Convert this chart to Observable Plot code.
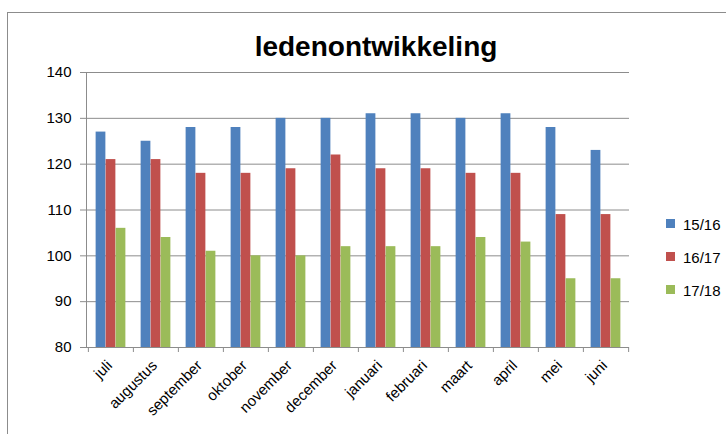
<!DOCTYPE html>
<html>
<head>
<meta charset="utf-8">
<script src="https://cdn.jsdelivr.net/npm/d3@7"></script>
<script src="https://cdn.jsdelivr.net/npm/@observablehq/plot@0.6"></script>
<style>
  html, body { margin: 0; padding: 0; background: #fff; }
  #wrap { position: relative; width: 726px; height: 434px; overflow: hidden; font-family: "Liberation Sans", Arial, sans-serif; }
  #border { position: absolute; left: 7px; top: 12px; width: 740px; height: 440px; border-top: 1px solid #8c8c8c; border-left: 1px solid #8c8c8c; }
  #title { position: absolute; left: 176px; width: 400px; top: 33px; text-align: center; font-size: 28px; line-height: 28px; font-weight: bold; color: #000; }
  #chart { position: absolute; left: 0; top: 0; }
  .leg { position: absolute; left: 666px; font-size: 15px; line-height: 15px; color: #000; }
  .leg span.sw { position: absolute; left: 0; top: 2px; width: 9px; height: 9px; }
  .leg span.lb { position: absolute; left: 17px; top: 0; white-space: nowrap; }
</style>
</head>
<body>
<div id="wrap">
  <div id="border"></div>
  <div id="title">ledenontwikkeling</div>
  <div id="chart"></div>
  <div id="legend"></div>
</div>
<script>
// ---- data ----
const months = ["juli", "augustus", "september", "oktober", "november", "december", "januari", "februari", "maart", "april", "mei", "juni"];
const seriesNames = ["15/16", "16/17", "17/18"];
const s1516 = [127, 125, 128, 128, 130, 130, 131, 131, 130, 131, 128, 123];
const s1617 = [121, 121, 118, 118, 119, 122, 119, 119, 118, 118, 109, 109];
const s1718 = [106, 104, 101, 100, 100, 102, 102, 102, 104, 103, 95, 95];
const yTicks = [80, 90, 100, 110, 120, 130, 140];
const colors = ["#4F81BD", "#C0504D", "#9BBB59"];

// ---- layout ----
const W = 726, H = 434;
const mL = 86, mR = W - 629, mT = 72, mB = H - 347;
const frameH = H - mT - mB;
const bw = (W - mL - mR) / months.length;
const barW = 10;
const groupW = barW * 3;
const off = (bw - groupW) / 2;
const gray = "#8c8c8c";

const allSeries = [s1516, s1617, s1718];
const barMarks = allSeries.map((vals, i) =>
  Plot.barY(months.map((m, j) => ({month: m, value: vals[j]})), {
    x: "month",
    y1: yTicks[0],
    y2: "value",
    fill: colors[i],
    insetLeft: off + i * barW,
    insetRight: bw - off - (i + 1) * barW
  })
);

const chart = Plot.plot({
  width: W,
  height: H,
  marginLeft: mL,
  marginRight: mR,
  marginTop: mT,
  marginBottom: mB,
  style: {fontFamily: "'Liberation Sans', Arial, sans-serif", fontSize: "15px", background: "transparent", overflow: "visible"},
  x: {type: "band", domain: months, paddingInner: 0, paddingOuter: 0, axis: null},
  y: {domain: [yTicks[0], yTicks[yTicks.length - 1]], axis: null, label: null},
  marks: [
    Plot.gridY(yTicks, {stroke: gray, strokeOpacity: 1}),
    Plot.axisY(yTicks, {tickSize: 6, tickPadding: 9, color: "black", stroke: gray, strokeOpacity: 1, fontSize: 15, label: null}),
    Plot.frame({anchor: "left", stroke: gray}),
    Plot.ruleY([yTicks[0]], {stroke: gray}),
    ...barMarks,
    Plot.ruleX(months, {x: d => d, dx: -bw / 2, stroke: gray, insetTop: frameH, insetBottom: -5}),
    Plot.ruleX([months[months.length - 1]], {x: d => d, dx: bw / 2, stroke: gray, insetTop: frameH, insetBottom: -5}),
    Plot.text(months, {x: d => d, frameAnchor: "bottom", rotate: -45, textAnchor: "end", dx: 2, dy: 19, fontSize: 15, fill: "black"})
  ]
});
document.getElementById("chart").appendChild(chart);

// ---- legend ----
const legend = document.getElementById("legend");
const legTops = [217, 250, 283];
seriesNames.forEach((name, i) => {
  const d = document.createElement("div");
  d.className = "leg";
  d.style.top = legTops[i] + "px";
  d.innerHTML = `<span class="sw" style="background:${colors[i]}"></span><span class="lb">${name}</span>`;
  legend.appendChild(d);
});
</script>
</body>
</html>
